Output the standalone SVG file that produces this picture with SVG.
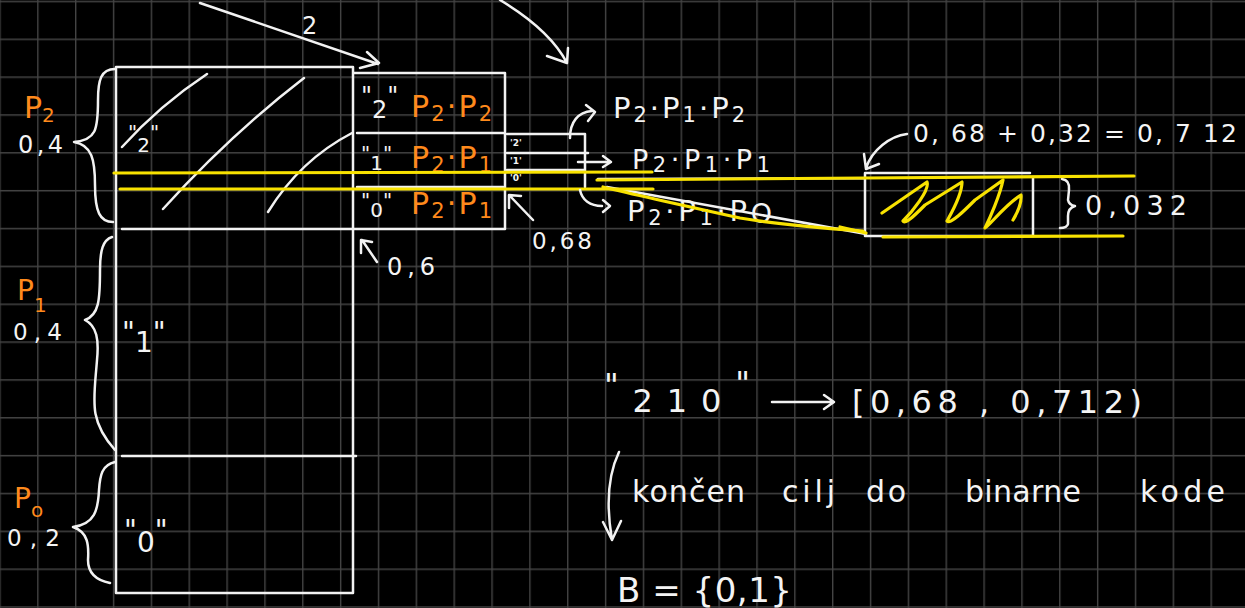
<svg xmlns="http://www.w3.org/2000/svg" width="1245" height="608" viewBox="0 0 1245 608">
<defs>
<pattern id="grid" patternUnits="userSpaceOnUse" x="-0.7" y="0.7" width="37.85" height="37.85">
<path d="M0.7,0 V37.85 M0,0.7 H37.85" stroke="#444" stroke-width="1.4" fill="none"/>
</pattern>
<style>
.w{fill:#f4f4f4;font-family:"DejaVu Sans",sans-serif}
.o{fill:#ff8a1c;font-family:"DejaVu Sans",sans-serif}
.s{fill:none;stroke:#f2f2f2;stroke-width:2.5;stroke-linecap:round;stroke-linejoin:round}
.y{fill:none;stroke:#f8e200;stroke-width:3.2;stroke-linecap:round;stroke-linejoin:round}
</style>
</defs>
<rect width="1245" height="608" fill="#000"/>
<rect width="1245" height="608" fill="url(#grid)"/>

<g id="main-interval">
<path class="s" d="M116,67 H353 V593 H116 Z M122,229 H355 M122,456 H356"/>
<path class="s" d="M122,147 Q160,105 207,74 M163,209 Q230,135 304,78 M268,212 Q300,160 352,133"/>
<text class="w" x="128" y="152" font-size="20"><tspan dy="-13">"</tspan><tspan dy="13">2</tspan><tspan dy="-13">"</tspan></text>
<text class="w" x="122" y="352" font-size="28"><tspan dy="-10">"</tspan><tspan dy="10">1</tspan><tspan dy="-10">"</tspan></text>
<text class="w" x="124" y="552" font-size="28"><tspan dy="-12">"</tspan><tspan dy="12">0</tspan><tspan dy="-12">"</tspan></text>
</g>

<g id="p2-brace">
<path class="s" d="M115,69 C101,69 98,80 98,100 C98,130 96,140 74,142 C92,145 95,160 95,185 C95,212 100,222 113,222"/>
<text class="o" x="24" y="118" font-size="30">P<tspan font-size="20" dy="4">2</tspan></text>
<text class="w" x="18" y="153" font-size="24" textLength="45" lengthAdjust="spacing">0,4</text>
</g>

<g id="p1-brace">
<path class="s" d="M112,237 C103,240 100,250 100,270 C100,300 99,315 85,320 C97,326 99,340 97,360 C94,400 88,420 115,450"/>
<text class="o" x="17" y="300" font-size="28">P<tspan font-size="20" dy="12">1</tspan></text>
<text class="w" x="13" y="340" font-size="23" textLength="49" lengthAdjust="spacing">0,4</text>
</g>

<g id="p0-brace">
<path class="s" d="M115,462 C102,465 100,475 99,490 C98,510 95,524 73,527 C88,532 89,545 88,560 C88,572 95,580 110,583"/>
<text class="o" x="14" y="508" font-size="28">P<tspan font-size="20" dy="9">o</tspan></text>
<text class="w" x="7" y="546" font-size="23" textLength="53" lengthAdjust="spacing">0,2</text>
</g>

<g id="second-interval">
<path class="s" d="M354,73 H505 V229 H356 M357,133 H503 M357,187 H503"/>
<text class="w" x="361" y="118" font-size="24"><tspan dy="-14">"</tspan><tspan dy="14">2</tspan><tspan dy="-14">"</tspan></text>
<text class="o" x="411" y="117" font-size="30" textLength="81" lengthAdjust="spacing">P<tspan font-size="21" dy="4">2</tspan><tspan dy="-4">·P</tspan><tspan font-size="21" dy="4">2</tspan></text>
<text class="w" x="361" y="170" font-size="20"><tspan dy="-10">"</tspan><tspan dy="10">1</tspan><tspan dy="-10">"</tspan></text>
<text class="o" x="411" y="168" font-size="30" textLength="81" lengthAdjust="spacing">P<tspan font-size="21" dy="4">2</tspan><tspan dy="-4">·P</tspan><tspan font-size="21" dy="4">1</tspan></text>
<text class="w" x="361" y="217" font-size="20"><tspan dy="-10">"</tspan><tspan dy="10">0</tspan><tspan dy="-10">"</tspan></text>
<text class="o" x="411" y="214" font-size="30" textLength="81" lengthAdjust="spacing">P<tspan font-size="21" dy="4">2</tspan><tspan dy="-4">·P</tspan><tspan font-size="21" dy="4">1</tspan></text>
</g>

<g id="third-interval">
<path class="s" d="M507,134 H585 V187 M507,153 H588 M507,170 H585" stroke-width="2"/>
<text class="w" x="510" y="146" font-size="9" font-weight="bold">'2'</text>
<text class="w" x="510" y="164" font-size="9" font-weight="bold">'1'</text>
<text class="w" x="510" y="181" font-size="9" font-weight="bold">'0'</text>
<text class="w" x="613" y="118" font-size="29" textLength="132" lengthAdjust="spacing">P<tspan font-size="21" dy="4">2</tspan><tspan dy="-4">·P</tspan><tspan font-size="21" dy="4">1</tspan><tspan dy="-4">·P</tspan><tspan font-size="21" dy="4">2</tspan></text>
<text class="w" x="632" y="169" font-size="27" textLength="138" lengthAdjust="spacing">P<tspan font-size="21" dy="3">2</tspan><tspan dy="-3">·P</tspan><tspan font-size="21" dy="3">1</tspan><tspan dy="-3">·P</tspan><tspan font-size="21" dy="3">1</tspan></text>
<text class="w" x="627" y="221" font-size="29" textLength="145" lengthAdjust="spacing">P<tspan font-size="21" dy="4">2</tspan><tspan dy="-4">·P</tspan><tspan font-size="21" dy="4">1</tspan><tspan dy="-4">·P</tspan><tspan font-size="27" dy="2">O</tspan></text>
</g>

<g id="result-interval">
<path class="s" d="M598,179 L865,178 M607,187 L866,234 M865,173 H1030 M865,173 V236 H1033 M1033,178 V236"/>
<path class="s" d="M1062,179 Q1070,180 1069,190 L1068,200 Q1069,205 1075,206 Q1068,208 1068,216 L1068,224 Q1067,228 1060,228"/>
<text class="w" x="1085" y="215" font-size="27" textLength="102" lengthAdjust="spacing">0,032</text>
<text class="w" x="913" y="142" font-size="25" textLength="324" lengthAdjust="spacing">0, 68 + 0,32 = 0, 7 12</text>
</g>

<g id="highlight">
<path class="y" d="M114,173 L652,172 M120,189 L653,189"/>
<path class="y" d="M597,180 L865,178 L1134,176"/>
<path class="y" d="M603,187 C640,196 690,207 740,218 C780,225 820,228 863,231"/>
<path class="y" d="M840,227 L866,233 M883,237 L1123,236"/>
<path class="y" d="M882,213 L927,182 C930,190 912,212 903,221 C905,225 915,215 925,205 L962,182 C962,195 952,212 947,221 C950,225 965,210 975,200 L1003,180 C1000,195 990,218 985,228 C990,225 1005,205 1021,195 C1022,205 1016,215 1013,220"/>
</g>

<g id="notes">
<text class="w" x="302" y="34" font-size="24">2</text>
<text class="w" x="387" y="275" font-size="24" textLength="48" lengthAdjust="spacing">0,6</text>
<text class="w" x="532" y="249" font-size="23" textLength="60" lengthAdjust="spacing">0,68</text>
<text class="w" x="604" y="412" font-size="32" textLength="146" lengthAdjust="spacing"><tspan dy="-16">"</tspan><tspan dy="16">210</tspan><tspan dy="-18">"</tspan></text>
<text class="w" x="852" y="413" font-size="32" textLength="290" lengthAdjust="spacing">[0,68 , 0,712)</text>
<text class="w" x="632" y="502" font-size="30" textLength="113" lengthAdjust="spacing">končen</text>
<text class="w" x="782" y="502" font-size="30" textLength="53" lengthAdjust="spacing">cilj</text>
<text class="w" x="866" y="502" font-size="30" textLength="40" lengthAdjust="spacing">do</text>
<text class="w" x="965" y="502" font-size="30" textLength="116" lengthAdjust="spacing">binarne</text>
<text class="w" x="1140" y="502" font-size="30" textLength="85" lengthAdjust="spacing">kode</text>
<text class="w" x="617" y="602" font-size="34" textLength="175" lengthAdjust="spacing">B = {0,1}</text>
</g>

<g id="connectors">
<path class="s" d="M200,3 L378,64 M367,52 L379,63 L360,68"/>
<path class="s" d="M500,0 C530,18 555,40 567,63 M547,56 L567,63 L568,48"/>
<path class="s" d="M570,138 C570,122 578,112 592,111 M586,105 L595,112 L588,121"/>
<path class="s" d="M578,162 H610 M603,156 L611,162 L603,167"/>
<path class="s" d="M580,190 C582,200 590,206 602,206 M603,200 L610,206 L603,212"/>
<path class="s" d="M533,220 L510,196 M509,208 L509,195 L521,196"/>
<path class="s" d="M377,262 L362,240 M361,253 L361,240 L372,242"/>
<path class="s" d="M907,134 C890,136 872,150 866,168 M864,154 L866,169 L879,164"/>
<path class="s" d="M772,402 H832 M824,395 L834,402 L824,409"/>
<path class="s" d="M619,452 C608,475 606,505 612,540 M603,522 L612,540 L621,521"/>
</g>
</svg>
